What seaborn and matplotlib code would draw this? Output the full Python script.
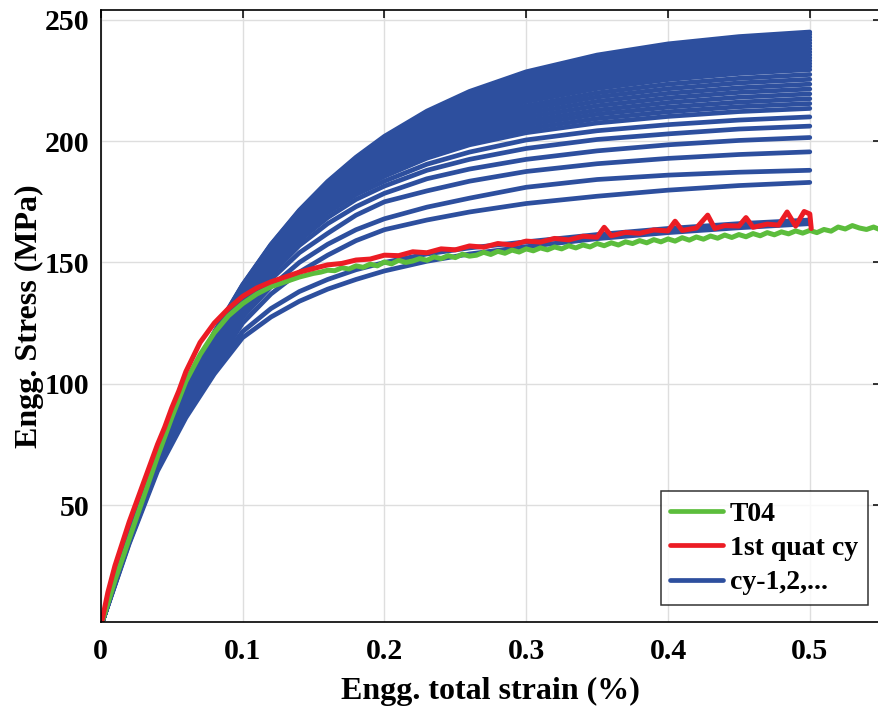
import matplotlib
matplotlib.use("Agg")
import matplotlib.pyplot as plt
import seaborn as sns
import pandas as pd
from matplotlib.lines import Line2D

# ---------------- data ----------------
blue_strain = [0, 0.02, 0.04, 0.06, 0.08, 0.10, 0.12, 0.14, 0.16, 0.18, 0.20,
               0.23, 0.26, 0.30, 0.35, 0.40, 0.45, 0.50]

blue_cycles = [
    [0, 34, 64, 86, 104, 119, 127.5, 134, 139, 143, 146.5, 150.5, 153.5, 156.5, 159.8, 162.3, 164.3, 166],
    [0, 34.5, 65, 87.5, 106, 121.5, 131, 138, 143, 147, 150, 153.5, 156, 158.5, 161.5, 164, 166, 167.5],
    [0, 35, 65.5, 88, 107, 125, 137, 146, 153, 159, 163.5, 167.5, 170.8, 174.3, 177.3, 179.8, 181.7, 183],
    [0, 35.5, 66, 89, 108.5, 127.5, 140, 150, 157.5, 163.5, 168, 172.8, 176.5, 181, 184.2, 186, 187.2, 188],
    [0, 35.5, 66.5, 90, 110, 129.5, 143, 154, 162, 169.5, 175, 179.5, 183.5, 187.5, 190.7, 192.9, 194.5, 195.6],
    [0, 36, 67, 91, 111.5, 131, 145, 157, 166, 173, 178.5, 184.5, 188.5, 192.5, 196, 198.5, 200.3, 201.5],
    [0, 36, 67.5, 92, 112.5, 132.5, 147, 159, 168.5, 176, 181.5, 188, 192.5, 197, 200.7, 203, 205, 206.2],
    [0, 36.5, 68, 92.5, 113.5, 133.5, 148.5, 161, 170.5, 178, 183.5, 190.5, 195.5, 200.5, 204.3, 206.8, 208.7, 210],
    [0, 36.5, 68.5, 93, 114.5, 134.5, 150, 162.5, 172, 179.5, 185.5, 193, 198.5, 203.5, 207.5, 210.2, 212.2, 213.5],
    [0, 36.6, 68.6, 93.3, 114.9, 134.9, 150.5, 163.1, 172.7, 180.4, 186.5, 194.2, 199.9, 205.1, 209.3, 212.1, 214.2, 215.5],
    [0, 36.7, 68.8, 93.6, 115.4, 135.3, 150.9, 163.6, 173.5, 181.3, 187.6, 195.5, 201.3, 206.7, 211.1, 214.0, 216.1, 217.5],
    [0, 36.8, 68.9, 94.0, 115.8, 135.7, 151.4, 164.2, 174.2, 182.1, 188.6, 196.7, 202.7, 208.3, 212.8, 215.9, 218.1, 219.5],
    [0, 36.9, 69.0, 94.3, 116.2, 136.1, 151.9, 164.8, 174.9, 183.0, 189.7, 197.9, 204.1, 209.9, 214.6, 217.8, 220.1, 221.5],
    [0, 37.0, 69.2, 94.6, 116.6, 136.5, 152.4, 165.4, 175.6, 183.9, 190.7, 199.2, 205.5, 211.5, 216.4, 219.7, 222.0, 223.5],
    [0, 37.2, 69.3, 94.9, 117.1, 136.9, 152.8, 165.9, 176.3, 184.8, 191.8, 200.4, 206.9, 213.1, 218.2, 221.6, 224.0, 225.5],
    [0, 37.3, 69.4, 95.2, 117.5, 137.3, 153.3, 166.5, 177.1, 185.7, 192.8, 201.6, 208.3, 214.6, 219.9, 223.5, 225.9, 227.5],
    [0, 37.4, 69.6, 95.5, 117.9, 137.7, 153.8, 167.1, 177.8, 186.6, 193.9, 202.9, 209.7, 216.3, 221.7, 225.4, 227.9, 229.5],
    [0, 37.4, 69.7, 95.8, 118.2, 138.0, 154.1, 167.4, 178.3, 187.1, 194.6, 203.7, 210.6, 217.3, 222.9, 226.6, 229.2, 230.8],
    [0, 37.5, 69.7, 95.9, 118.4, 138.2, 154.3, 167.8, 178.7, 187.7, 195.2, 204.4, 211.4, 218.2, 223.9, 227.8, 230.3, 232.0],
    [0, 37.6, 69.8, 96.1, 118.7, 138.4, 154.6, 168.1, 179.1, 188.2, 195.8, 205.1, 212.3, 219.2, 225.0, 228.9, 231.5, 233.2],
    [0, 37.6, 69.9, 96.3, 118.9, 138.7, 154.9, 168.5, 179.6, 188.7, 196.4, 205.9, 213.1, 220.1, 226.1, 230.0, 232.7, 234.4],
    [0, 37.7, 70.0, 96.5, 119.2, 138.9, 155.2, 168.8, 180.0, 189.3, 197.1, 206.6, 213.9, 221.1, 227.2, 231.2, 233.9, 235.6],
    [0, 37.8, 70.1, 96.7, 119.5, 139.2, 155.5, 169.2, 180.4, 189.8, 197.7, 207.4, 214.8, 222.1, 228.2, 232.3, 235.1, 236.8],
    [0, 37.8, 70.1, 96.9, 119.7, 139.4, 155.8, 169.5, 180.9, 190.3, 198.3, 208.1, 215.6, 223.0, 229.3, 233.5, 236.2, 238.0],
    [0, 37.9, 70.2, 97.1, 120.0, 139.6, 156.0, 169.8, 181.3, 190.8, 199.0, 208.8, 216.5, 224.0, 230.4, 234.6, 237.4, 239.2],
    [0, 38.0, 70.3, 97.3, 120.2, 139.9, 156.3, 170.2, 181.7, 191.4, 199.6, 209.6, 217.3, 224.9, 231.4, 235.7, 238.6, 240.4],
    [0, 38.0, 70.4, 97.5, 120.5, 140.1, 156.6, 170.5, 182.2, 191.9, 200.2, 210.3, 218.1, 225.9, 232.5, 236.9, 239.8, 241.6],
    [0, 38.1, 70.5, 97.7, 120.7, 140.4, 156.9, 170.9, 182.6, 192.4, 200.9, 211.0, 219.0, 226.8, 233.5, 238.0, 240.9, 242.8],
    [0, 38.2, 70.5, 97.8, 121.0, 140.6, 157.2, 171.2, 183.0, 193.0, 201.5, 211.8, 219.8, 227.8, 234.6, 239.1, 242.1, 244.0],
    [0, 38.2, 70.6, 98.0, 121.2, 140.8, 157.4, 171.5, 183.4, 193.4, 202.0, 212.4, 220.5, 228.6, 235.5, 240.1, 243.1, 245.0],
]

red_strain = [0, .005, .01, .015, .02, .025, .03, .035, .04, .045, .05, .055, .06, .065,
              .07, .075, .08, .09, .10, .11, .12, .13, .14, .15, .16, .17, .18, .19, .20,
              .21, .22, .23, .24, .25, .26, .27, .28, .29, .30, .31, .32, .33, .34, .35,
              .355, .36, .37, .38, .39, .40, .405, .41, .42, .428, .433, .44, .45, .455,
              .46, .47, .478, .484, .49, .496, .50, .501]
red_stress = [0, 14, 25, 34, 43, 51, 59, 67, 75, 82, 90, 97, 105, 111,
              117, 121, 125, 131, 136, 139.5, 142, 144, 146, 147.5, 149, 149.6, 151, 151.4, 153,
              152.8, 154.4, 154.0, 155.6, 155.2, 156.8, 156.3, 157.8, 157.2, 158.8, 158.4, 159.9, 159.3, 160.8, 160.4,
              164.5, 161, 162.4, 162, 163.4, 163, 167, 163.2, 164.2, 169.5, 164, 165.2, 165, 168.5,
              164.5, 165.8, 165.4, 170.8, 165, 171, 170, 164]

green_strain = [0, .01, .02, .03, .04, .05, .06, .07, .08, .09, .10, .11, .12, .13, .14, .15,
                .155, .16, .165, .17, .175, .18, .185, .19, .195, .20, .205, .21, .215, .22,
                .225, .23, .235, .24, .245, .25, .255, .26, .265, .27, .275, .28, .285, .29,
                .295, .30, .305, .31, .315, .32, .325, .33, .335, .34, .345, .35, .355, .36,
                .365, .37, .375, .38, .385, .39, .395, .40, .405, .41, .415, .42, .425, .43,
                .435, .44, .445, .45, .455, .46, .465, .47, .475, .48, .485, .49, .495, .50,
                .505, .51, .515, .52, .525, .53, .535, .54, .545, .55]
green_stress = [0, 19, 36, 53, 70, 86, 101, 112, 121, 128, 133, 137, 140, 142, 144, 145.5,
                146.0, 146.8, 146.6, 147.8, 147.3, 148.6, 148.0, 149.3, 148.6, 150.2, 149.4, 150.9, 150.0, 150.6,
                151.6, 150.9, 152.3, 151.6, 152.8, 152.0, 153.4, 152.6, 153.0, 154.2, 153.3, 154.6, 153.8, 155.1,
                154.3, 155.6, 154.8, 156.0, 155.2, 156.4, 155.6, 156.9, 156.0, 157.2, 156.4, 157.8, 156.9, 158.1,
                157.2, 158.5, 157.8, 159.0, 158.1, 159.4, 158.5, 159.7, 158.8, 160.2, 159.2, 160.5, 159.6, 160.9,
                160.0, 161.3, 160.3, 161.5, 160.6, 161.9, 161.0, 162.3, 161.4, 162.6, 161.8, 163.0, 162.1, 163.2,
                162.3, 163.6, 162.9, 164.6, 163.8, 165.2, 164.2, 163.6, 164.6, 163.4]

legend_labels = ["T04", "1st quat cy", "cy-1,2,..."]
x_ticks = [0, 0.1, 0.2, 0.3, 0.4, 0.5]
x_tick_labels = ["0", "0.1", "0.2", "0.3", "0.4", "0.5"]
y_ticks = [50, 100, 150, 200, 250]

# ---------------- style ----------------
sns.set_style("white")
plt.rcParams["font.family"] = ["Liberation Serif", "DejaVu Serif"]
plt.rcParams["font.weight"] = "bold"
for k in ["text.color", "axes.labelcolor", "xtick.color", "ytick.color"]:
    plt.rcParams[k] = "black"

GREEN = "#5cbd3c"
RED = "#ec1c24"
BLUE = "#2d4f9e"

fig = plt.figure(figsize=(8.79, 7.08), dpi=100)
ax = fig.add_axes([100.8 / 879, (708 - 621.7) / 708, 0.55 * 1418 / 879, 612 / 708])

rows = []
for i, ys in enumerate(blue_cycles):
    for xv, yv in zip(blue_strain, ys):
        rows.append({"cycle": i, "strain": xv, "stress": yv})
df_blue = pd.DataFrame(rows)
df_green = pd.DataFrame({"strain": green_strain, "stress": green_stress})
df_red = pd.DataFrame({"strain": red_strain, "stress": red_stress})

sns.lineplot(data=df_blue, x="strain", y="stress", units="cycle", estimator=None,
             color=BLUE, lw=3.4, sort=False, ax=ax, legend=False)
sns.lineplot(data=df_green, x="strain", y="stress", color=GREEN, lw=3.6,
             sort=False, ax=ax, legend=False)
sns.lineplot(data=df_red, x="strain", y="stress", color=RED, lw=3.6,
             sort=False, ax=ax, legend=False)

ax.set_xlim(0, 0.55)
ax.set_ylim(1.9, 254.2)
ax.set_xticks(x_ticks)
ax.set_xticklabels(x_tick_labels)
ax.set_yticks(y_ticks)
ax.grid(True, color="#dedede", lw=1.0)
ax.set_axisbelow(True)
for s in ax.spines.values():
    s.set_color("black")
    s.set_linewidth(1.2)
ax.tick_params(direction="in", length=6, width=1.1, top=True, right=True,
               labelsize=21.5, colors="black")
ax.tick_params(axis="x", pad=12)
ax.tick_params(axis="y", pad=8)
for lab in ax.get_xticklabels() + ax.get_yticklabels():
    lab.set_fontweight("bold")
ax.set_xlabel("Engg. total strain (%)", fontsize=23, fontweight="bold", labelpad=8)
ax.set_ylabel("Engg. Stress (MPa)", fontsize=23, fontweight="bold", labelpad=1)

handles = [Line2D([], [], color=GREEN, lw=3.4),
           Line2D([], [], color=RED, lw=3.4),
           Line2D([], [], color=BLUE, lw=3.4)]
leg = ax.legend(handles, legend_labels, loc="lower right",
                bbox_to_anchor=(0.9836, 0.0273), fontsize=20, frameon=True,
                fancybox=False, edgecolor="black", handlelength=1.9,
                handletextpad=0.25, borderpad=0.35, labelspacing=0.32, borderaxespad=0)
leg.get_frame().set_linewidth(1.1)
for t in leg.get_texts():
    t.set_fontweight("bold")

fig.savefig("out.png", dpi=100)
